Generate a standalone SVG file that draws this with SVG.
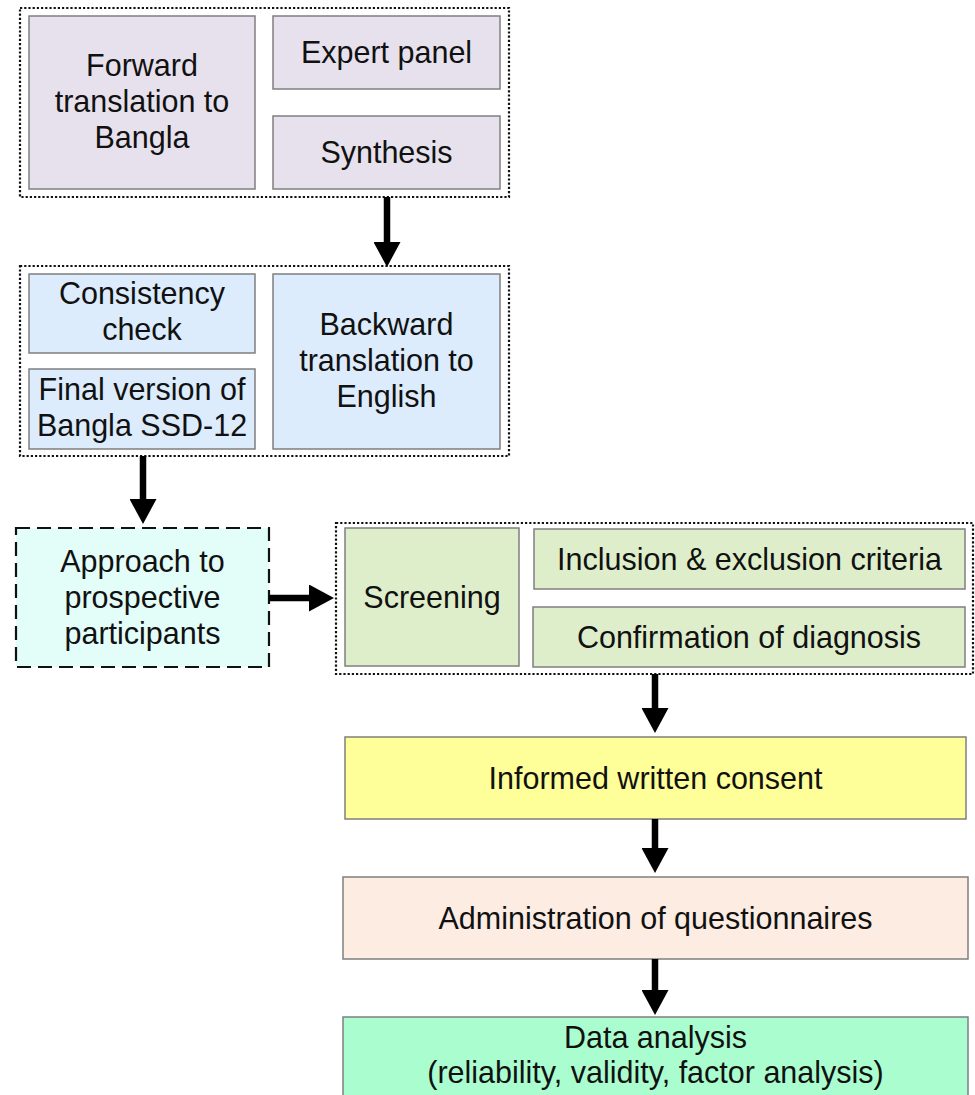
<svg xmlns="http://www.w3.org/2000/svg" width="975" height="1095" viewBox="0 0 975 1095">
<defs>
<style>
text{font-family:"Liberation Sans",Arial,sans-serif;font-size:30.5px;fill:#111;text-anchor:middle}
.box{stroke:#7f7f7f;stroke-width:1.5}
.grp{fill:none;stroke:#111;stroke-width:2.2;stroke-dasharray:2.2 2}
.p{fill:#e6e1ec}.b{fill:#dcecfc}.g{fill:#deeecb}
.conn line{stroke:#000;stroke-width:6.5;marker-end:url(#ah)}
</style>
<marker id="ah" viewBox="0 0 25 27" refX="5" refY="13.5" markerWidth="25" markerHeight="27" markerUnits="userSpaceOnUse" orient="auto">
<path d="M0,0 L25,13.5 L0,27 Z" fill="#000"/>
</marker>
</defs>
<rect width="975" height="1095" fill="#fff"/>

<g id="group1">
<rect class="grp" x="20" y="8" width="489" height="189"/>
</g>
<g id="forward">
<rect class="box p" x="29" y="16" width="226" height="173"/>
<text x="142" y="76">Forward</text>
<text x="142" y="112">translation to</text>
<text x="142" y="148">Bangla</text>
</g>
<g id="expert">
<rect class="box p" x="273" y="16" width="227" height="73"/>
<text x="386.5" y="63">Expert panel</text>
</g>
<g id="synthesis">
<rect class="box p" x="273" y="116" width="227" height="73"/>
<text x="386.5" y="163">Synthesis</text>
</g>

<g id="group2">
<rect class="grp" x="20" y="266" width="489" height="190"/>
</g>
<g id="consistency">
<rect class="box b" x="29" y="274" width="226" height="79"/>
<text x="142" y="304">Consistency</text>
<text x="142" y="340">check</text>
</g>
<g id="final">
<rect class="box b" x="29" y="369" width="226" height="80"/>
<text x="142" y="400">Final version of</text>
<text x="142" y="436">Bangla SSD-12</text>
</g>
<g id="backward">
<rect class="box b" x="273" y="274" width="227" height="175"/>
<text x="386.5" y="335">Backward</text>
<text x="386.5" y="371">translation to</text>
<text x="386.5" y="407">English</text>
</g>

<g id="approach">
<rect x="16" y="528" width="253" height="139" fill="#e3fdf9" stroke="#111" stroke-width="2.2" stroke-dasharray="14 7"/>
<text x="142.5" y="572">Approach to</text>
<text x="142.5" y="608">prospective</text>
<text x="142.5" y="644">participants</text>
</g>

<g id="group3">
<rect class="grp" x="336" y="523" width="637" height="151"/>
</g>
<g id="screening">
<rect class="box g" x="345" y="528" width="174" height="138"/>
<text x="432" y="608">Screening</text>
</g>
<g id="inclusion">
<rect class="box g" x="534" y="529" width="431" height="60"/>
<text x="749.5" y="569.5">Inclusion &amp; exclusion criteria</text>
</g>
<g id="confirmation">
<rect class="box g" x="533" y="607" width="432" height="60"/>
<text x="749" y="647.5">Confirmation of diagnosis</text>
</g>

<g id="consent">
<rect class="box" x="345" y="737" width="621" height="82" fill="#ffff99"/>
<text x="655.5" y="788.5">Informed written consent</text>
</g>
<g id="administration">
<rect class="box" x="343" y="877" width="625" height="82" fill="#fcece2"/>
<text x="655.5" y="928.5">Administration of questionnaires</text>
</g>
<g id="analysis">
<rect class="box" x="343" y="1017" width="625" height="100" fill="#aafdcf"/>
<text x="655.5" y="1048">Data analysis</text>
<text x="655.5" y="1083">(reliability, validity, factor analysis)</text>
</g>

<g class="conn" id="connectors">
<line x1="387" y1="197" x2="387" y2="247"/>
<line x1="143" y1="456" x2="143" y2="504"/>
<line x1="269" y1="598" x2="314" y2="598"/>
<line x1="655" y1="674" x2="655" y2="713"/>
<line x1="655" y1="819" x2="655" y2="853"/>
<line x1="655" y1="959" x2="655" y2="995"/>
</g>
</svg>
